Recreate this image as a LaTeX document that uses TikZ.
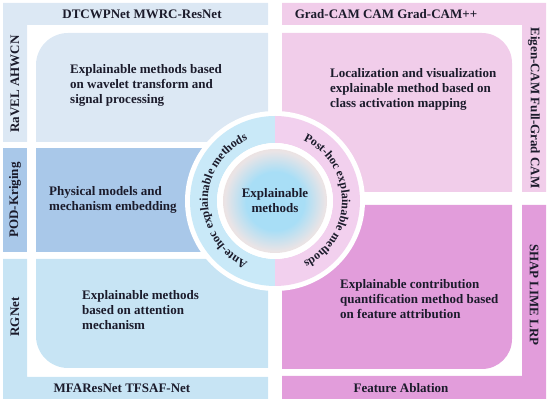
\documentclass[tikz,border=0pt]{standalone}
\usepackage{fontspec}
\setmainfont{Liberation Serif}
\usetikzlibrary{calc,decorations.text}

\definecolor{ink}{RGB}{27,27,43}
\definecolor{tlblue}{RGB}{220,232,244}
\definecolor{mlblue}{RGB}{169,200,233}
\definecolor{blblue}{RGB}{199,228,244}
\definecolor{trpink}{RGB}{241,205,234}
\definecolor{brpink}{RGB}{226,157,219}
\definecolor{ringblue}{RGB}{201,233,248}
\definecolor{ringpink}{RGB}{242,208,238}
\definecolor{coreblue}{RGB}{168,222,246}
\definecolor{coremid}{RGB}{234,228,230}
\definecolor{corepeach}{RGB}{248,216,200}
\pgfdeclareradialshading{coreshade}{\pgfpoint{0bp}{0bp}}{color(0bp)=(coreblue); color(14bp)=(coreblue); color(24bp)=(coremid); color(33bp)=(corepeach); color(50bp)=(corepeach)}

\tikzstyle{bar label} = [font=\bfseries\fontsize{13}{15}\selectfont,text=ink,inner sep=0pt]
\tikzstyle{box text} = [font=\bfseries\fontsize{13}{15}\selectfont,text=ink,align=left,anchor=west,inner sep=0pt]
\tikzstyle{ring text} = [decorate,decoration={text along path,text align=center,text color=ink}]

\begin{document}
\begin{tikzpicture}[x=1pt,y=1pt]
\useasboundingbox (0,0) rectangle (550,404);
% outer bars
\fill[tlblue] (3,401) -- (268,401) -- (268,379) -- (27,379) -- (27,262) -- (3,262) -- cycle;
\fill[mlblue] (3,152) rectangle (27,256);
\fill[blblue] (3,145) -- (27,145) -- (27,27) -- (268,27) -- (268,5) -- (3,5) -- cycle;
\fill[trpink] (282,401) -- (546,401) -- (546,212) -- (522,212) -- (522,379) -- (282,379) -- cycle;
\fill[brpink] (522,199) -- (546,199) -- (546,5) -- (282,5) -- (282,28) -- (522,28) -- cycle;
% inner boxes
\fill[tlblue] (268,262) -- (36,262) -- (36,339) arc (180:90:32) -- (268,371) -- cycle;
\fill[mlblue] (36,152) rectangle (268,256);
\fill[blblue] (268,145) -- (36,145) -- (36,68) arc (180:270:32) -- (268,36) -- cycle;
\fill[trpink] (282,212) -- (282,371) -- (482,371) arc (90:0:30) -- (512,212) -- cycle;
\fill[brpink] (282,199) -- (512,199) -- (512,65) arc (0:-90:30) -- (282,35) -- cycle;

% centre rings
\coordinate (c) at (275,203);
\fill[white] (c) circle (90);
\fill[ringblue] ($(c)+(0,85)$) arc (90:270:85) -- ++(0,27) arc (270:90:58) -- cycle;
\fill[ringpink] ($(c)+(0,85)$) arc (90:-90:85) -- ++(0,27) arc (-90:90:58) -- cycle;
\fill[white] (c) circle (58);
\shade[shading=coreshade] (c) circle (52);
\path[ring text,decoration={text={|\bfseries\fontsize{12}{13}\selectfont|Ante-hoc explainable methods}}]
  ($(c)+(246:67)$) arc (246:114:67);
\path[ring text,decoration={text={|\bfseries\fontsize{12}{13}\selectfont|Post-hoc explainable methods}}]
  ($(c)+(66:67)$) arc (66:-66:67);
\node[bar label,align=center] (core) at (c) {Explainable\\methods};

% bar labels
\foreach \pos/\name/\rot/\txt in {{(142,390)/dtcw/0/DTCWPNet MWRC-ResNet}, {(15,320)/ravel/90/RaVEL AHWCN},
                                  {(15,204)/pod/90/POD-Kriging}, {(15,87)/rgnet/90/RGNet},
                                  {(122,16)/mfa/0/MFAResNet TFSAF-Net}, {(386,390)/gradcam/0/Grad-CAM CAM Grad-CAM++},
                                  {(534,296)/eigen/-90/Eigen-CAM Full-Grad CAM}, {(534,109)/shap/-90/SHAP LIME LRP},
                                  {(401,16)/ablation/0/Feature Ablation}}{
  \node[bar label,rotate=\rot] (\name) at \pos {\txt};
}

% box texts
\node[box text] (wavelet) at (70,319) {Explainable methods based\\on wavelet transform and\\signal processing};
\node[box text] (physical) at (49,204) {Physical models and\\mechanism embedding};
\node[box text] (attention) at (82,94) {Explainable methods\\based on attention\\mechanism};
\node[box text] (activation) at (330,315) {Localization and visualization\\explainable method based on\\class activation mapping};
\node[box text] (attribution) at (340,105) {Explainable contribution\\quantification method based\\on feature attribution};
\end{tikzpicture}
\end{document}
